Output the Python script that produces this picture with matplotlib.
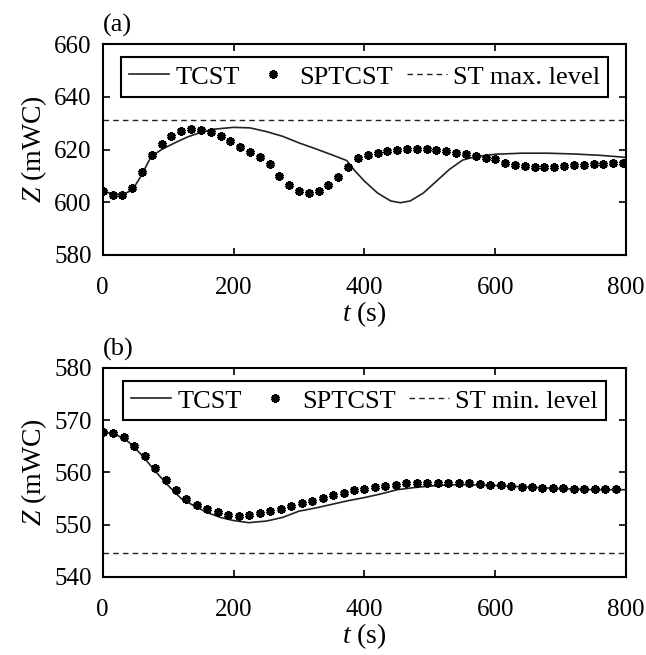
import matplotlib
matplotlib.use('Agg')
import matplotlib.pyplot as plt
import numpy as np

plt.rcParams['font.family'] = 'Liberation Serif'
plt.rcParams['mathtext.fontset'] = 'custom'
plt.rcParams['mathtext.rm'] = 'Liberation Serif'
plt.rcParams['mathtext.it'] = 'Liberation Serif:italic'

# ---- Panel (a) data ----
tcst_a_t = [0, 10, 20, 30, 40, 50, 60, 70, 75, 90, 110, 130, 150, 170, 200, 225,
            250, 275, 300, 325, 350, 373, 385, 400, 420, 440, 455, 470, 490, 510,
            530, 550, 570, 600, 640, 680, 720, 760, 800]
tcst_a_z = [604.5, 603.5, 603.0, 603.0, 604.0, 606.5, 610.5, 615.5, 617.5, 620.0,
            622.5, 624.8, 626.5, 627.7, 628.4, 628.2, 626.8, 625.0, 622.5, 620.3,
            618.0, 615.8, 612.0, 608.0, 603.5, 600.5, 599.8, 600.5, 603.5, 608.0,
            612.5, 616.0, 617.3, 618.2, 618.6, 618.6, 618.3, 617.8, 617.0]

spt_a_t = list(range(0, 800, 15))
spt_a_z = [604.4, 602.8, 602.8, 605.3, 611.4, 617.9, 622.0, 625.0, 627.1, 627.9,
           627.5, 626.6, 625.0, 623.2, 621.1, 619.2, 617.3, 614.4, 609.9, 606.6,
           604.4, 603.4, 604.4, 606.6, 609.7, 613.5, 616.8, 617.9, 618.8, 619.6,
           620.0, 620.2, 620.3, 620.2, 620.0, 619.4, 618.8, 618.2, 617.6, 616.7,
           616.3, 614.8, 614.2, 613.8, 613.5, 613.5, 613.5, 613.8, 614.0, 614.2,
           614.4, 614.6, 614.8, 614.8]
max_level = 631.2

# ---- Panel (b) data ----
tcst_b_t = [0, 20, 40, 60, 80, 100, 120, 140, 160, 180, 200, 223, 250, 275, 300,
            325, 350, 375, 400, 425, 450, 475, 500, 525, 550, 575, 600, 650, 700,
            750, 800]
tcst_b_z = [567.8, 567.3, 565.8, 563.3, 560.3, 557.5, 555.0, 553.6, 552.3, 551.4,
            550.8, 550.4, 550.7, 551.4, 552.6, 553.2, 553.9, 554.6, 555.2, 555.9,
            556.7, 557.1, 557.4, 557.6, 557.7, 557.6, 557.5, 557.2, 556.9, 556.7,
            556.7]

spt_b_t = list(range(0, 800, 16))
spt_b_z = [567.8, 567.5, 566.7, 565.1, 563.2, 560.9, 558.6, 556.6, 555.0, 553.8,
           553.0, 552.4, 551.9, 551.7, 551.9, 552.2, 552.6, 553.0, 553.5, 554.1,
           554.6, 555.2, 555.6, 556.1, 556.6, 556.9, 557.2, 557.5, 557.7, 557.9,
           558.0, 558.05, 558.05, 558.05, 558.0, 557.9, 557.8, 557.7, 557.6, 557.5,
           557.3, 557.2, 557.1, 557.0, 557.0, 556.9, 556.8, 556.8, 556.8, 556.8]
min_level = 544.5

fig = plt.figure(figsize=(6.46, 6.55), dpi=100)
ax_a = fig.add_axes([0.159, 0.6107, 0.8104, 0.3221])
ax_b = fig.add_axes([0.159, 0.1191, 0.8104, 0.3191])

panels = [
    (ax_a, tcst_a_t, tcst_a_z, spt_a_t, spt_a_z, max_level, 'ST max. level',
     (580, 660), np.arange(580, 661, 20), '(a)'),
    (ax_b, tcst_b_t, tcst_b_z, spt_b_t, spt_b_z, min_level, 'ST min. level',
     (540, 580), np.arange(540, 581, 10), '(b)'),
]

for ax, tt, tz, st, sz, level, level_label, ylim, yticks, tag in panels:
    ax.plot(tt, tz, color='#222222', lw=1.2, label='TCST')
    ax.plot(st, sz, ls='none', marker=(6, 2, 0), ms=6, mew=2.3,
            color='black', label='SPTCST')
    ax.axhline(level, color='#222222', lw=1.0, ls=(0, (4, 3)), label=level_label)

    ax.set_xlim(0, 800)
    ax.set_ylim(*ylim)
    ax.set_xticks([0, 200, 400, 600, 800])
    ax.set_yticks(yticks)
    ax.tick_params(direction='in', top=True, right=True, length=5, width=1.2,
                   labelsize=18)
    ax.tick_params(axis='x', pad=16)
    ax.tick_params(axis='y', pad=8)
    for s in ax.spines.values():
        s.set_linewidth(1.5)
    ax.set_xlabel('$t$ (s)', fontsize=20, labelpad=0)
    ax.set_ylabel('$Z$ (mWC)', fontsize=20, labelpad=4)
    ax.annotate(tag, xy=(0, 1), xycoords='axes fraction', xytext=(0, 5),
                textcoords='offset points', ha='left', va='bottom', fontsize=19)

    leg = ax.legend(loc='upper center', ncol=3, fontsize=19, frameon=True,
                    fancybox=False, edgecolor='black', framealpha=1,
                    handlelength=1.52, handletextpad=0.25, columnspacing=0.5,
                    borderpad=0.3, borderaxespad=0.5)
    leg.get_frame().set_linewidth(1.5)

fig.savefig('out.png', dpi=100)
